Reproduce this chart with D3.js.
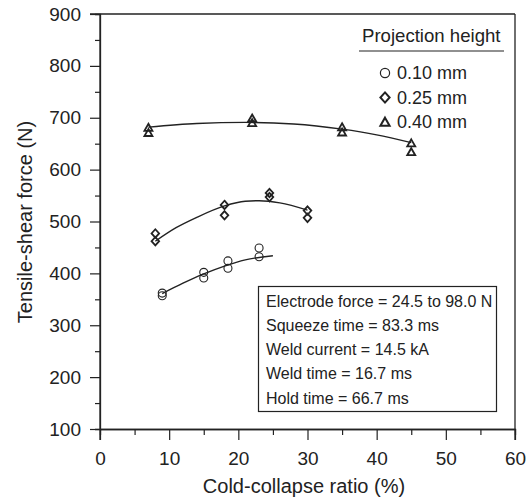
<!DOCTYPE html>
<html>
<head>
<meta charset="utf-8">
<script src="https://cdn.jsdelivr.net/npm/d3@7"></script>
<style>
  body { margin: 0; background: #fff; }
  svg text { font-family: "Liberation Sans", Arial, sans-serif; fill: #222; }
</style>
</head>
<body>
<svg id="chart" width="528" height="503"></svg>
<script>
var circleX   = [9, 9, 15, 15, 18.5, 18.5, 23, 23];
var circleY   = [362, 357, 402, 391, 424, 410, 449, 432];
var diamondX  = [8, 8, 18, 18, 24.5, 24.5, 30, 30];
var diamondY  = [477, 462, 532, 512, 555, 547, 521, 507];
var triangleX = [7, 7, 22, 22, 35, 35, 45, 45];
var triangleY = [681, 671, 699, 690, 682, 672, 651, 634];

// fitted trend lines
var fitCircleX   = [9, 12, 15, 18, 21, 25];
var fitCircleY   = [361, 381, 399, 414, 426, 434];
var fitDiamondX  = [8, 11, 14, 18, 21, 23, 26, 30];
var fitDiamondY  = [462, 488, 508, 530, 539, 540, 536, 522];
var fitTriangleX = [7, 14, 21, 28, 35, 40, 45];
var fitTriangleY = [682, 689, 691, 688, 678, 667, 652];

var xTicks = [0, 10, 20, 30, 40, 50, 60];
var yTicks = [100, 200, 300, 400, 500, 600, 700, 800, 900];
var legendLabels = ["0.10 mm", "0.25 mm", "0.40 mm"];
var noteLines = [
  "Electrode force = 24.5 to 98.0 N",
  "Squeeze time = 83.3 ms",
  "Weld current = 14.5 kA",
  "Weld time = 16.7 ms",
  "Hold time = 66.7 ms"
];

var ink = "#222";
var svg = d3.select("#chart");

var x = d3.scaleLinear().domain([0, 60]).range([100, 515]);
var y = d3.scaleLinear().domain([100, 900]).range([429, 14]);

// marker shapes
function shape(kind, r) {
  if (kind == "circle") {
    return "M" + r + ",0A" + r + "," + r + " 0 1,1 " + (-r) + ",0A" + r + "," + r + " 0 1,1 " + r + ",0Z";
  }
  if (kind == "diamond") {
    return "M0," + (-r * 1.1) + "L" + r + ",0L0," + (r * 1.1) + "L" + (-r) + ",0Z";
  }
  return "M0," + (-r * 0.95) + "L" + r + "," + (r * 0.8) + "L" + (-r) + "," + (r * 0.8) + "Z";
}

// frame (top and right)
svg.append("line").attr("x1", 90).attr("x2", 515).attr("y1", 14).attr("y2", 14)
  .attr("stroke", ink).attr("stroke-width", 1.3);
svg.append("line").attr("x1", 515).attr("x2", 515).attr("y1", 14).attr("y2", 440)
  .attr("stroke", ink).attr("stroke-width", 1.3);

// axes
var xAxis = svg.append("g").attr("transform", "translate(0,429)")
  .call(d3.axisBottom(x).tickValues(xTicks).tickSize(11).tickSizeOuter(0).tickPadding(12));
var xMinor = svg.append("g").attr("transform", "translate(0,429)")
  .call(d3.axisBottom(x).tickValues(d3.range(5, 60, 10)).tickSize(6).tickFormat(""));
var yAxis = svg.append("g").attr("transform", "translate(100,0)")
  .call(d3.axisLeft(y).tickValues(yTicks).tickSize(10).tickSizeOuter(0).tickPadding(9));
var yMinor = svg.append("g").attr("transform", "translate(100,0)")
  .call(d3.axisLeft(y).tickValues(d3.range(150, 900, 100)).tickSize(5).tickFormat(""));

[xAxis, xMinor, yAxis, yMinor].forEach(function (g) {
  g.select(".domain").attr("stroke", ink).attr("stroke-width", 1.3);
  g.selectAll(".tick line").attr("stroke", ink).attr("stroke-width", 1.2);
  g.selectAll(".tick text").style("font-size", "19px").attr("fill", ink);
});
yAxis.select(".domain").attr("d", "M0,14V440");

svg.append("text").attr("x", 304).attr("y", 493).attr("text-anchor", "middle")
  .style("font-size", "20px").text("Cold-collapse ratio (%)");
svg.append("text").attr("transform", "translate(32,222) rotate(-90)").attr("text-anchor", "middle")
  .style("font-size", "20px").text("Tensile-shear force (N)");

// fit lines
var line = d3.line().x(function (d) { return x(d[0]); }).y(function (d) { return y(d[1]); })
  .curve(d3.curveMonotoneX);
[[fitCircleX, fitCircleY], [fitDiamondX, fitDiamondY], [fitTriangleX, fitTriangleY]].forEach(function (f) {
  svg.append("path").datum(d3.zip(f[0], f[1])).attr("d", line)
    .attr("fill", "none").attr("stroke", ink).attr("stroke-width", 1.4);
});

// points
var sets = [
  {kind: "circle", xs: circleX, ys: circleY, r: 4, w: 1.1},
  {kind: "diamond", xs: diamondX, ys: diamondY, r: 3.8, w: 1.8},
  {kind: "triangle", xs: triangleX, ys: triangleY, r: 4, w: 1.8}
];
sets.forEach(function (s) {
  svg.append("g").selectAll("path").data(d3.zip(s.xs, s.ys)).enter().append("path")
    .attr("transform", function (d) { return "translate(" + x(d[0]) + "," + y(d[1]) + ")"; })
    .attr("d", shape(s.kind, s.r))
    .attr("fill", "none").attr("stroke", ink).attr("stroke-width", s.w);
});

// legend
var legend = svg.append("g");
legend.append("text").attr("x", 362).attr("y", 42).style("font-size", "18.6px").text("Projection height");
legend.append("line").attr("x1", 359).attr("x2", 504).attr("y1", 51).attr("y2", 51)
  .attr("stroke", ink).attr("stroke-width", 1.2);
legendLabels.forEach(function (lab, i) {
  var cy = 73 + i * 24.5;
  legend.append("path").attr("transform", "translate(385," + cy + ")")
    .attr("d", shape(sets[i].kind, 4.6))
    .attr("fill", "none").attr("stroke", ink).attr("stroke-width", i == 0 ? 1.2 : 2);
  legend.append("text").attr("x", 397).attr("y", cy + 6).style("font-size", "18px").text(lab);
});

// conditions box
var note = svg.append("g");
note.append("rect").attr("x", 258.5).attr("y", 286.5).attr("width", 238).attr("height", 125)
  .attr("fill", "#fff").attr("stroke", ink).attr("stroke-width", 1.2);
noteLines.forEach(function (t, i) {
  note.append("text").attr("x", 266).attr("y", 306.5 + i * 24.3).style("font-size", "16px").text(t);
});
</script>
</body>
</html>
